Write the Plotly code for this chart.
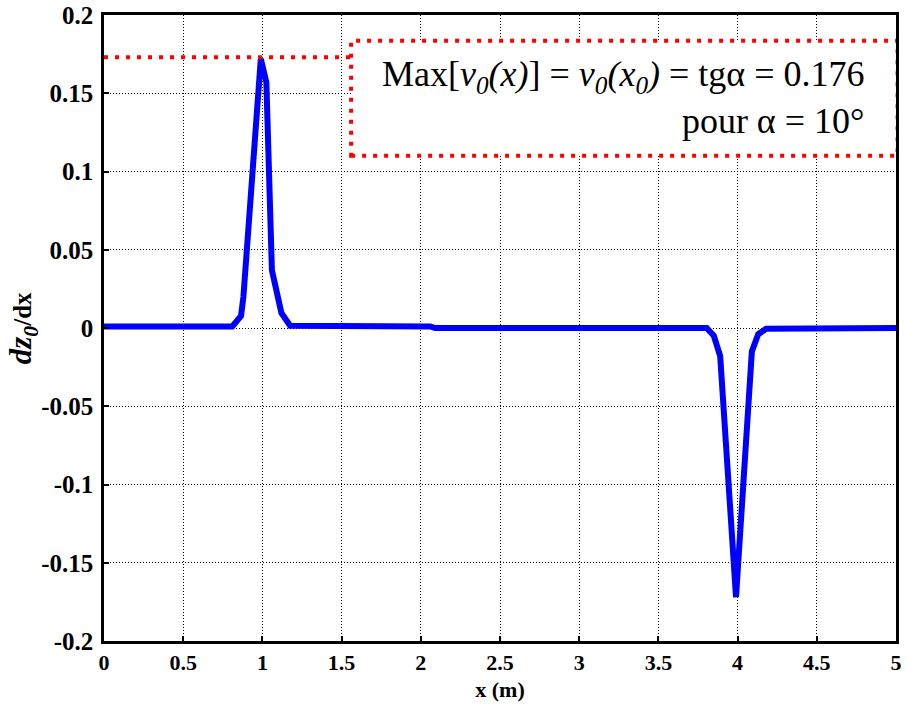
import plotly.graph_objects as go

# Data
x_vals = [0.0, 0.81, 0.865, 0.88, 0.99, 1.025, 1.06, 1.12, 1.175, 2.06, 2.09,
          3.805, 3.85, 3.89, 3.99, 4.09, 4.13, 4.18, 5.0]
y_vals = [0.001, 0.001, 0.0077, 0.0198, 0.172, 0.157, 0.037, 0.0096, 0.0015, 0.001, 0.0,
          0.0, -0.005, -0.018, -0.172, -0.015, -0.004, -0.0005, 0.0]

max_value = 0.173
box_x = [1.56, 5.01]
box_y = [0.110, 0.1835]

x_ticks = [0, 0.5, 1, 1.5, 2, 2.5, 3, 3.5, 4, 4.5, 5]
x_tick_text = ["0", "0.5", "1", "1.5", "2", "2.5", "3", "3.5", "4", "4.5", "5"]
y_ticks = [-0.2, -0.15, -0.1, -0.05, 0, 0.05, 0.1, 0.15, 0.2]
y_tick_text = ["-0.2", "-0.15", "-0.1", "-0.05", "0", "0.05", "0.1", "0.15", "0.2"]

FONT = "Liberation Serif"

fig = go.Figure()
fig.add_trace(go.Scatter(x=x_vals, y=y_vals, mode="lines",
                         line=dict(color="#0000FF", width=6), showlegend=False))

# red dotted max line
fig.add_shape(type="line", xref="x", yref="y", x0=0, x1=box_x[0], y0=max_value, y1=max_value,
              line=dict(color="#FF0000", width=4, dash="4px,7px"))
# red dotted box
fig.add_shape(type="rect", xref="x", yref="y", x0=box_x[0], x1=box_x[1], y0=box_y[0], y1=box_y[1],
              line=dict(color="#FF0000", width=4, dash="4px,7px"), fillcolor="white", layer="above")

fig.add_annotation(xref="x", yref="y", x=4.81, y=0.147, xanchor="right", yanchor="middle",
                   align="right", showarrow=False,
                   text="Max[<i>v<sub>0</sub>(x)</i>] = <i>v<sub>0</sub>(x<sub>0</sub>)</i> = tgα = 0.176<br>pour α = 10°",
                   font=dict(family=FONT, size=36, color="black"))

# y axis title
fig.add_annotation(xref="paper", yref="paper", x=-0.102, y=0.5, xanchor="center", yanchor="middle",
                   showarrow=False, textangle=-90,
                   text="<b><i>dz<sub>0</sub></i></b><b><span style='font-size:25px'>/dx</span></b>",
                   font=dict(family=FONT, size=31, color="black"))

axis_common = dict(showline=True, linecolor="black", linewidth=2.5, mirror=True,
                   ticks="inside", ticklen=5, tickwidth=1.5, tickcolor="black",
                   showgrid=True, gridcolor="black", gridwidth=1, griddash="1px,2px",
                   zeroline=False, automargin=False, ticklabeloverflow="allow")

fig.update_xaxes(range=[0, 5], tickvals=x_ticks, ticktext=[f"<b>{t}</b>" for t in x_tick_text],
                 tickfont=dict(family=FONT, size=22, color="black"),
                 title=dict(text="<b>x (m)</b>", font=dict(family=FONT, size=22, color="black"), standoff=8),
                 **axis_common)
fig.update_yaxes(range=[-0.2, 0.2], tickvals=y_ticks, ticktext=[f"<b>{t}</b>" for t in y_tick_text],
                 tickfont=dict(family=FONT, size=25, color="black"),
                 ticklabelstandoff=3, **axis_common)

fig.update_layout(width=906, height=711, paper_bgcolor="white", plot_bgcolor="white",
                  margin=dict(l=104, r=10, t=15, b=70), showlegend=False)

# remove the default 8px page margin so the figure fills the window exactly
fig.write_html("out.html", config={"displayModeBar": False},
               post_script="document.body.style.margin='0';document.body.style.overflow='hidden';")
